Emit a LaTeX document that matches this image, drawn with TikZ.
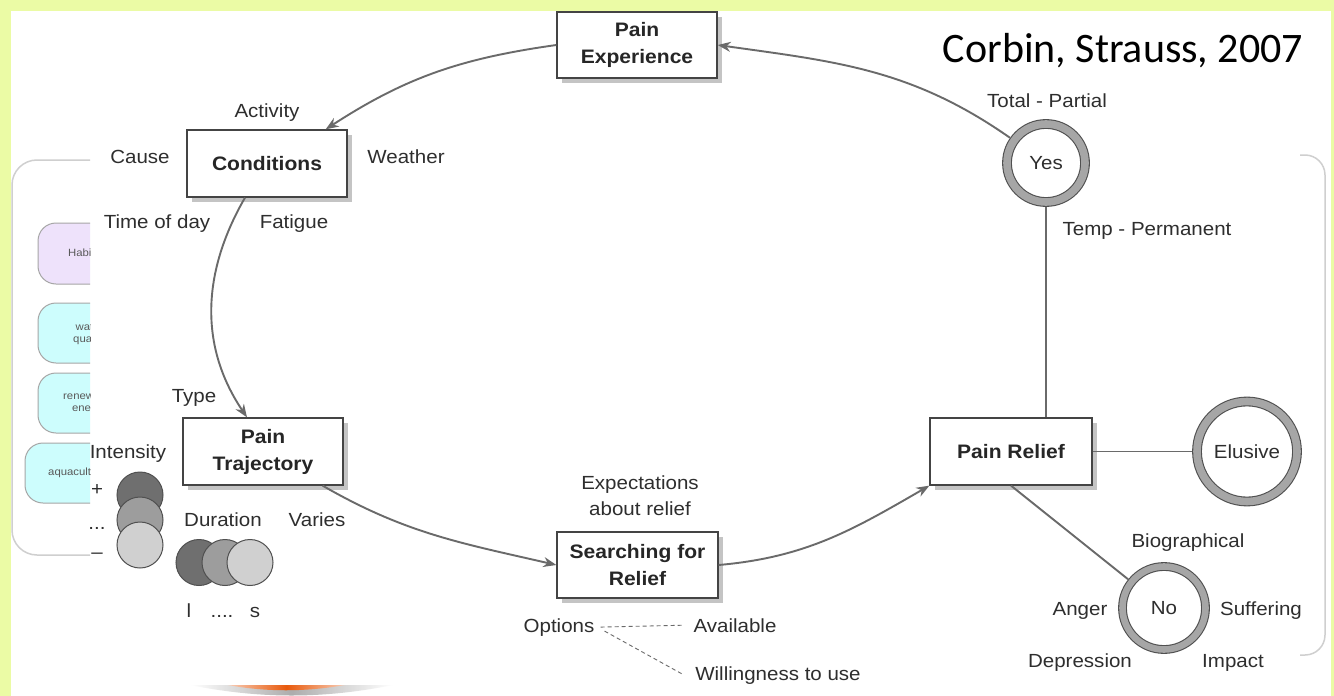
\documentclass[tikz,border=0pt]{standalone}
\usepackage{fontspec}
\setmainfont{Liberation Sans}[FakeStretch=1.08]
\newfontfamily\calib{Carlito}
\usetikzlibrary{arrows.meta,shadows,calc}
\definecolor{bgy}{HTML}{EBFBA5}
\definecolor{txt}{HTML}{2E2E2E}
\definecolor{boxline}{HTML}{444444}
\definecolor{shadowc}{HTML}{C4C4C4}
\definecolor{lineg}{HTML}{6A6A6A}
\definecolor{ringline}{HTML}{505050}
\definecolor{ringfill}{HTML}{A6A6A6}
\definecolor{cdark}{HTML}{6F6F6F}
\definecolor{cmid}{HTML}{9D9D9D}
\definecolor{clight}{HTML}{D0D0D0}
\definecolor{oldline}{HTML}{CFCFCF}
\definecolor{lav}{HTML}{EEE2FB}
\definecolor{cyn}{HTML}{CDFDFD}
\definecolor{orng}{HTML}{E8590C}
\tikzset{
  lbl/.style={text=txt, inner sep=0pt, anchor=base, font=\fontsize{19}{22}\selectfont},
  box/.style={draw=boxline, line width=1.3pt, fill=white,
    font=\fontsize{19.5}{27}\selectfont\bfseries, align=center, text=black!85,
    general shadow={fill=shadowc, shadow xshift=5pt, shadow yshift=-5pt}, inner sep=0pt},
  ring/.style={circle, draw=ringline, line width=1.1pt, double=ringfill, fill=white,
    inner sep=0pt, text=txt, font=\fontsize{19}{22}\selectfont},
  conn/.style={draw=lineg, line width=1.9pt},
  arr/.style={conn, -{Stealth[length=13pt,width=10pt]}},
  dashln/.style={draw=lineg, line width=0.9pt, dash pattern=on 4pt off 3pt},
  dot/.style={circle, draw=ringline, line width=1pt, minimum size=46pt, inner sep=0pt},
  oldbox/.style={draw=gray!70, line width=1pt, rounded corners=18pt},
  oldtxt/.style={text=gray!70!black, font=\fontsize{10.5}{12}\selectfont, inner sep=0pt, align=center}
}
\begin{document}
\begin{tikzpicture}[x=1pt,y=-1pt]
\useasboundingbox (0,0) rectangle (1334,696);
\fill[bgy] (0,0) rectangle (1334,696);
\fill[white] (11,11) rectangle (1331,696);

% remnants of an earlier slide behind
\draw[oldline, line width=1.5pt, rounded corners=25pt] (90,160) -- (12,160) -- (12,555) -- (90,555);
\draw[oldline, line width=1.5pt, rounded corners=20pt] (1300,155) -- (1325,155) -- (1325,655) -- (1300,655);
\begin{scope}
  \clip (0,0) rectangle (90,696);
  \draw[oldbox, fill=lav] (38,223) rectangle (130,284);
  \draw[oldbox, fill=cyn] (38,303) rectangle (130,363);
  \draw[oldbox, fill=cyn] (38,373) rectangle (130,433);
  \draw[oldbox, fill=cyn] (25,443) rectangle (130,503);
  \node[oldtxt, anchor=west] (oh) at (68,253) {Habitat};
  \node[oldtxt, anchor=west] (ow) at (73,334) {water\\quality};
  \node[oldtxt, anchor=west] (or) at (63,403) {renewable\\energy};
  \node[oldtxt, anchor=west] (oa) at (48,473) {aquaculture};
\end{scope}
% orange decoration at bottom
\shade[left color=white, right color=white, middle color=gray!65] (190,685) .. controls (260,699) and (323,699) .. (393,685) -- cycle;
\shade[left color=orng!30, right color=orng!30, middle color=orng] (228,685) .. controls (265,692) and (306,692) .. (345,685) -- cycle;

% title
\node[anchor=base, inner sep=0pt, font=\calib\fontsize{42}{46}\selectfont] (title) at (1123,62) {Corbin, Strauss, 2007};

% boxes
\node[box, minimum width=160pt, minimum height=66pt] (pe) at (637,45) {Pain\\Experience};
\node[box, minimum width=160pt, minimum height=67pt] (cond) at (267,163.5) {Conditions};
\node[box, minimum width=160pt, minimum height=67pt] (traj) at (263,451.5) {Pain\\Trajectory};
\node[box, minimum width=161pt, minimum height=66pt] (search) at (637.5,565) {Searching for\\Relief};
\node[box, minimum width=162pt, minimum height=67pt] (relief) at (1011,451.5) {Pain Relief};

% rings
\node[ring, minimum size=78pt, double distance=7.6pt, outer sep=5pt] (yes) at (1046,163) {Yes};
\node[ring, minimum size=100pt, double distance=7.6pt, outer sep=5pt] (elusive) at (1247,451.5) {Elusive};
\node[ring, minimum size=83pt, double distance=6.6pt, outer sep=4.5pt] (no) at (1164,608) {No};

% connectors
\draw[arr] (yes.145) to[out=145,in=-8] (pe.east);
\draw[arr] (pe.west) to[out=188,in=33] ([xshift=-22pt]cond.north east);
\draw[arr] ([xshift=-22pt]cond.south) to[out=240,in=124] ([xshift=-16pt]traj.north);
\draw[arr] ([xshift=-21pt]traj.south east) to[out=-30,in=167] (search.west);
\draw[arr] (search.east) to[out=5,in=-150] (relief.south west);
\draw[conn] (yes) -- (yes |- relief.north);
\draw[conn] (relief.east) -- (elusive.west);
\draw[conn] (relief.south) -- (no);

% intensity / duration circles
\node[dot, fill=cdark] (i1) at (140,495) {};
\node[dot, fill=cmid] (i2) at (140,520) {};
\node[dot, fill=clight] (i3) at (140,545) {};
\node[dot, fill=cdark] (d1) at (199,562.5) {};
\node[dot, fill=cmid] (d2) at (225,562.5) {};
\node[dot, fill=clight] (d3) at (250,562.5) {};

% labels
\node[lbl] (lact) at (267,117) {Activity};
\node[lbl] (lcause) at (140,163) {Cause};
\node[lbl] (lweath) at (406,163) {Weather};
\node[lbl] (ltime) at (157,228) {Time of day};
\node[lbl] (lfat) at (294,228) {Fatigue};
\node[lbl] (ltype) at (194,402) {Type};
\node[lbl] (lint) at (128,458) {Intensity};
\node[lbl] (lplus) at (97,495) {+};
\node[lbl] (ldots) at (97,529) {...};
\node[lbl] (lminus) at (97,558) {\textendash};
\node[lbl] (ldur) at (223,526) {Duration};
\node[lbl] (lvar) at (317,526) {Varies};
\node[lbl] (ll) at (189,617) {l};
\node[lbl] (ld4) at (222,617) {....};
\node[lbl] (ls) at (255,617) {s};
\node[lbl] (lexp) at (640,489) {Expectations};
\node[lbl] (labout) at (640,515) {about relief};
\node[lbl] (lopt) at (559,632) {Options};
\node[lbl] (lavail) at (735,632) {Available};
\node[lbl] (lwill) at (778,680) {Willingness to use};
\node[lbl] (ltot) at (1047,107) {Total - Partial};
\node[lbl] (ltemp) at (1147,235) {Temp - Permanent};
\node[lbl] (lbio) at (1188,547) {Biographical};
\node[lbl] (lang) at (1080,615) {Anger};
\node[lbl] (lsuf) at (1261,615) {Suffering};
\node[lbl] (ldep) at (1080,667) {Depression};
\node[lbl] (limp) at (1233,667) {Impact};

\draw[dashln] ([xshift=6pt]lopt.east) -- ([xshift=-10pt]lavail.west);
\draw[dashln] ([xshift=10pt,yshift=-4pt]lopt.east) -- ([xshift=-11pt]lwill.west);
\end{tikzpicture}
\end{document}
